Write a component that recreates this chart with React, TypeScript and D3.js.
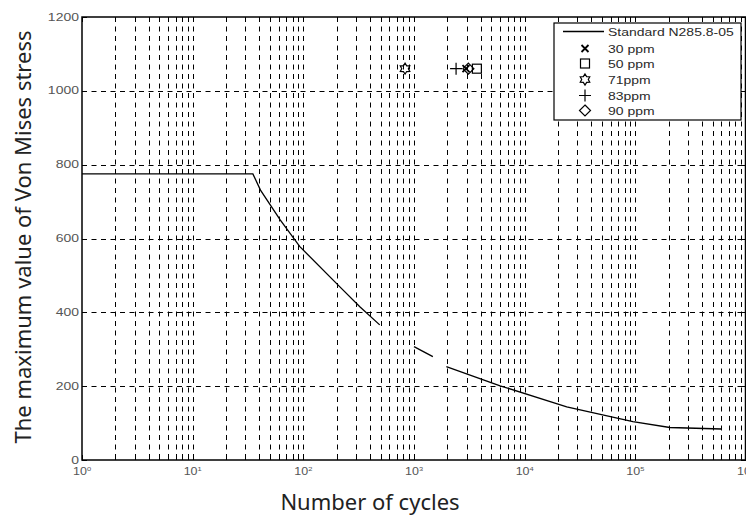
import React from "react";
import * as d3 from "d3";

// Standard N285.8-05 curve, drawn as three separate pieces
const stdSeg1N = [1, 35, 41, 62, 93, 214, 324, 490];
const stdSeg1S = [775, 775, 731, 650, 578, 469, 415, 366];
const stdSeg2N = [1000, 1480];
const stdSeg2S = [307, 280];
const stdSeg3N = [1960, 6000, 24000, 95000, 205000, 600000];
const stdSeg3S = [253, 201, 144, 104, 88, 84];

// test points
const seriesNames = ["30 ppm", "50 ppm", "71ppm", "83ppm", "90 ppm"];
const seriesSymbols = ["x", "square", "hexagram", "plus", "diamond"];
const seriesN = [2950, 3700, 830, 2400, 3100];
const seriesS = [1060, 1060, 1060, 1060, 1060];

const yTicks = [0, 200, 400, 600, 800, 1000, 1200];
const xDecades = [0, 1, 2, 3, 4, 5, 6];

const W = 746;
const H = 516;
const m = { left: 82, top: 17, right: 746, bottom: 460 };

function Marker({ type, x, y }: { type: string; x: number; y: number }) {
  const s = { fill: "none", stroke: "#000", strokeWidth: 1.2 };
  if (type === "x")
    return (
      <path d={`M${x - 3.5},${y - 3.5}L${x + 3.5},${y + 3.5}M${x - 3.5},${y + 3.5}L${x + 3.5},${y - 3.5}`} {...s} strokeWidth={1.8} />
    );
  if (type === "square") return <rect x={x - 4.5} y={y - 4.5} width={9} height={9} {...s} />;
  if (type === "plus")
    return <path d={`M${x - 6},${y}L${x + 6},${y}M${x},${y - 6}L${x},${y + 6}`} {...s} />;
  if (type === "diamond")
    return <path d={`M${x},${y - 5.5}L${x + 5.5},${y}L${x},${y + 5.5}L${x - 5.5},${y}Z`} {...s} />;
  // hexagram
  const pts = d3.range(12).map((i) => {
    const a = (Math.PI / 6) * i - Math.PI / 2;
    const r = i % 2 === 0 ? 5.5 : 3.3;
    return [x + r * Math.cos(a), y + r * Math.sin(a)];
  });
  return <path d={"M" + pts.map((p) => p.join(",")).join("L") + "Z"} {...s} />;
}

export default function App() {
  const x = d3.scaleLog().domain([1, 1e6]).range([m.left, m.right]);
  const y = d3.scaleLinear().domain([0, 1200]).range([m.bottom, m.top]);

  const line = d3
    .line<[number, number]>()
    .x((d) => x(d[0]))
    .y((d) => y(d[1]));

  const segs = [
    [stdSeg1N, stdSeg1S],
    [stdSeg2N, stdSeg2S],
    [stdSeg3N, stdSeg3S],
  ].map(([n, s]) => n.map((v, i) => [v, s[i]] as [number, number]));

  const minor: number[] = [];
  xDecades.slice(0, -1).forEach((k) => {
    for (let j = 2; j <= 9; j++) minor.push(j * Math.pow(10, k));
  });
  const majors = xDecades.map((k) => Math.pow(10, k));

  const dash = "5,4.5";
  const tickFont = { fontFamily: "Liberation Sans, Arial", fontSize: 10, fill: "#555" };
  const legFont = { fontFamily: "Liberation Sans, Arial", fontSize: 11, fill: "#2a2a2a" };

  const legX = 554;
  const legY = 23;
  const legRows = [31.5, 48.5, 63.5, 79.5, 95.5, 110.5];

  return (
    <svg width={W} height={H} style={{ position: "absolute", left: 0, top: 0 }}>
      <rect width={W} height={H} fill="#fff" />
      {/* grid */}
      <g stroke="#000" strokeWidth={1} strokeDasharray={dash} fill="none">
        {[...minor, ...majors.slice(1, -1)].map((v) => (
          <line key={"gx" + v} x1={Math.round(x(v)) + 0.5} x2={Math.round(x(v)) + 0.5} y1={m.top} y2={m.bottom} />
        ))}
        {yTicks.slice(1, -1).map((v) => (
          <line key={"gy" + v} x1={m.left} x2={m.right} y1={Math.round(y(v)) + 0.5} y2={Math.round(y(v)) + 0.5} />
        ))}
      </g>
      {/* ticks */}
      <g stroke="#000" strokeWidth={1}>
        {minor.map((v) => {
          const px = Math.round(x(v)) + 0.5;
          return (
            <g key={"t" + v}>
              <line x1={px} x2={px} y1={m.bottom} y2={m.bottom - 3} />
              <line x1={px} x2={px} y1={m.top} y2={m.top + 3} />
            </g>
          );
        })}
        {majors.map((v) => {
          const px = Math.round(x(v)) + 0.5;
          return (
            <g key={"T" + v}>
              <line x1={px} x2={px} y1={m.bottom} y2={m.bottom - 5} />
              <line x1={px} x2={px} y1={m.top} y2={m.top + 5} />
            </g>
          );
        })}
        {yTicks.map((v) => (
          <g key={"Y" + v}>
            <line x1={m.left} x2={m.left + 5} y1={Math.round(y(v)) + 0.5} y2={Math.round(y(v)) + 0.5} />
            <line x1={m.right - 5} x2={m.right} y1={Math.round(y(v)) + 0.5} y2={Math.round(y(v)) + 0.5} />
          </g>
        ))}
      </g>
      {/* frame */}
      <rect x={m.left} y={m.top} width={m.right - m.left - 0.5} height={m.bottom - m.top} fill="none" stroke="#000" strokeWidth={1.5} />

      {/* standard curve */}
      {segs.map((s, i) => (
        <path key={"s" + i} d={line(s) || ""} fill="none" stroke="#000" strokeWidth={1.3} />
      ))}

      {/* test points */}
      {seriesN.map((n, i) => (
        <Marker key={"m" + i} type={seriesSymbols[i]} x={x(n)} y={y(seriesS[i])} />
      ))}

      {/* tick labels */}
      {yTicks.map((v) => (
        <g key={"yl" + v} transform={`translate(${m.left - 3},${y(v) + 3.5}) scale(1.4,1)`}>
          <text textAnchor="end" {...tickFont}>
            {v}
          </text>
        </g>
      ))}
      {xDecades.map((k) => (
        <g key={"xl" + k} transform={`translate(${x(Math.pow(10, k)) - 9},${m.bottom + 15}) scale(1.25,1)`}>
          <text {...tickFont}>
            10
            <tspan fontSize={6} dy={-4}>
              {k}
            </tspan>
          </text>
        </g>
      ))}

      {/* axis titles */}
      <text x={370} y={510} textAnchor="middle" fontFamily="Noto Sans" fontSize={22} fill="#222">
        Number of cycles
      </text>
      <text
        transform={`translate(31,237) rotate(-90)`}
        textAnchor="middle"
        fontFamily="Noto Sans"
        fontSize={22}
        fill="#222"
      >
        The maximum value of Von Mises stress
      </text>

      {/* legend */}
      <rect x={legX} y={legY} width={187} height={97} fill="#fff" stroke="#000" strokeWidth={1.2} />
      <line x1={563} x2={604} y1={legRows[0]} y2={legRows[0]} stroke="#000" strokeWidth={1.3} />
      {["Standard N285.8-05", ...seriesNames].map((t, i) => (
        <g key={"lg" + i} transform={`translate(608,${legRows[i] + 4}) scale(1.27,1)`}>
          <text {...legFont}>{t}</text>
        </g>
      ))}
      {seriesSymbols.map((s, i) => (
        <Marker key={"lm" + i} type={s} x={585} y={legRows[i + 1]} />
      ))}
    </svg>
  );
}
